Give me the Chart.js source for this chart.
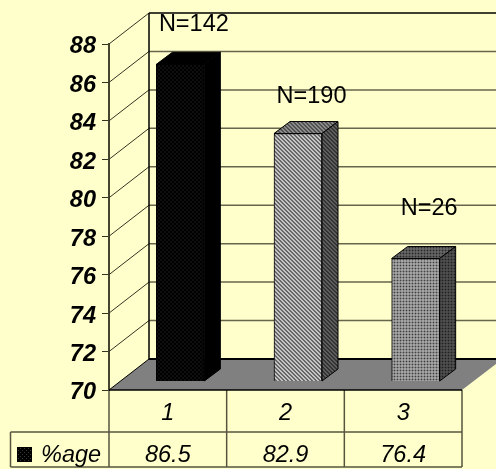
<!DOCTYPE html>
<html lang="en">
<head>
    <meta charset="UTF-8">
    <title>%age by group</title>
    <script src="https://cdn.jsdelivr.net/npm/chart.js"></script>
    <style>
        html, body { margin: 0; padding: 0; background: #FFFFCC; }
        canvas { display: block; }
    </style>
</head>
<body>
    <canvas id="myChart" width="496" height="469"></canvas>
    <script>
        const categories = ['1', '2', '3'];
        const seriesName = '%age';
        const percentages = [86.5, 82.9, 76.4];
        const sampleSizes = ['N=142', 'N=190', 'N=26'];
        const yTicks = [70, 72, 74, 76, 78, 80, 82, 84, 86, 88];

        // how far each N= label sits above its bar
        const labelLift = [48, 46, 58];

        const FONT = '"Liberation Sans", Arial, sans-serif';
        const WALL_DX = 40, WALL_DY = 31;   // depth of the back wall
        const BAR_DX = 12.5, BAR_DY = 8.5;  // bars stand a little way in from the front
        const SIDE_DX = 16, SIDE_DY = 12;   // depth of each bar

        // small repeating fill built from rows of palette indexes
        function makePattern(rows, colors) {
            const tile = document.createElement('canvas');
            tile.width = rows[0].length;
            tile.height = rows.length;
            const t = tile.getContext('2d');
            rows.forEach((row, y) => {
                [...row].forEach((c, x) => {
                    t.fillStyle = colors[+c];
                    t.fillRect(x, y, 1, 1);
                });
            });
            return t.createPattern(tile, 'repeat');
        }
        const dots = ['1000', '0000', '0010', '0000'];
        const diag = ['0011', '1001', '1100', '0110'];
        const mesh = ['110', '110', '000'];

        const frontFills = [
            makePattern(dots, ['#000000', '#3a3a3a']),
            makePattern(diag, ['#f4f4f4', '#383838']),
            makePattern(mesh, ['#c4c4c4', '#404040'])
        ];
        const topFills = [
            '#000000',
            makePattern(diag, ['#a8a8a8', '#333333']),
            makePattern(mesh, ['#787878', '#282828'])
        ];
        const sideFills = [
            '#000000',
            makePattern(diag, ['#747474', '#1e1e1e']),
            makePattern(mesh, ['#5e5e5e', '#202020'])
        ];

        function line(ctx, x1, y1, x2, y2, color, width) {
            ctx.strokeStyle = color;
            ctx.lineWidth = width;
            ctx.beginPath();
            ctx.moveTo(x1, y1);
            ctx.lineTo(x2, y2);
            ctx.stroke();
        }

        function poly(ctx, pts, fill, stroke) {
            ctx.beginPath();
            pts.forEach((p, i) => i ? ctx.lineTo(p[0], p[1]) : ctx.moveTo(p[0], p[1]));
            ctx.closePath();
            ctx.fillStyle = fill;
            ctx.fill();
            if (stroke) {
                ctx.strokeStyle = stroke;
                ctx.lineWidth = 1;
                ctx.stroke();
            }
        }

        // back wall, floor and the diagonal gridlines
        const wallPlugin = {
            id: 'wall',
            beforeDatasetsDraw(chart) {
                const { ctx, chartArea: a, scales: { y } } = chart;
                const backLeft = a.left + WALL_DX;
                const wallRight = chart.width;
                const wallTop = a.top - WALL_DY;
                const floorY = a.bottom - WALL_DY;
                const topTick = yTicks[yTicks.length - 1];
                ctx.save();
                yTicks.forEach((v) => {
                    const py = y.getPixelForValue(v);
                    if (v > yTicks[0]) {
                        line(ctx, a.left, py, backLeft, py - WALL_DY, '#333322', 1);
                        line(ctx, backLeft, py - WALL_DY, wallRight, py - WALL_DY, v === topTick ? '#000000' : '#66664c', 1.5);
                    }
                });
                line(ctx, backLeft, wallTop, backLeft, floorY, '#000000', 1.5);
                poly(ctx, [[a.left, a.bottom], [backLeft, floorY], [wallRight, floorY], [wallRight, floorY + 5], [a.right, a.bottom]], '#808080');
                line(ctx, a.left, a.bottom, backLeft, floorY, '#000000', 1);
                line(ctx, backLeft, floorY, wallRight, floorY, '#000000', 2);
                ctx.restore();
            },
            // bars are pushed back onto the floor while the dataset is drawn
            beforeDatasetDraw(chart) {
                chart.ctx.save();
                chart.ctx.translate(BAR_DX, -BAR_DY);
            },
            afterDatasetDraw(chart, args) {
                const { ctx } = chart;
                chart.getDatasetMeta(args.index).data.forEach((bar, i) => {
                    const left = bar.x - bar.width / 2;
                    const right = bar.x + bar.width / 2;
                    poly(ctx, [[left, bar.y], [left + SIDE_DX, bar.y - SIDE_DY], [right + SIDE_DX, bar.y - SIDE_DY], [right, bar.y]], topFills[i], '#000000');
                    poly(ctx, [[right, bar.y], [right + SIDE_DX, bar.y - SIDE_DY], [right + SIDE_DX, bar.base - SIDE_DY], [right, bar.base]], sideFills[i], '#000000');
                });
                ctx.restore();
            },
            afterDatasetsDraw(chart) {
                const { ctx, chartArea: a, scales: { x, y } } = chart;
                ctx.save();
                ctx.textAlign = 'center';
                ctx.textBaseline = 'middle';
                ctx.fillStyle = '#000000';

                // N= labels over the bars
                ctx.font = '23.5px ' + FONT;
                sampleSizes.forEach((label, i) => {
                    ctx.fillText(label, x.getPixelForValue(i) + 26, y.getPixelForValue(percentages[i]) - labelLift[i]);
                });

                // data table under the axis
                const rowY = 432, tableBottom = 467, tableLeft = 10.5;
                const edges = [a.left, a.left + (a.right - a.left) / 3, a.left + 2 * (a.right - a.left) / 3, a.right];
                const tableLine = '#55553f';
                edges.forEach((ex) => line(ctx, ex, a.bottom, ex, tableBottom, tableLine, 1.5));
                line(ctx, a.left, a.bottom, a.right, a.bottom, '#000000', 1.5);
                line(ctx, tableLeft, rowY, a.right, rowY, tableLine, 1.5);
                line(ctx, tableLeft, tableBottom, a.right, tableBottom, tableLine, 1.5);
                line(ctx, tableLeft, rowY, tableLeft, tableBottom, tableLine, 1.5);

                ctx.font = 'italic 23.5px ' + FONT;
                percentages.forEach((v, i) => {
                    ctx.fillText(v.toFixed(1), x.getPixelForValue(i), 455);
                });
                ctx.fillStyle = frontFills[0];
                ctx.fillRect(17, 447, 15, 15);
                ctx.fillStyle = '#000000';
                ctx.textAlign = 'left';
                ctx.fillText(seriesName, 41, 455);
                ctx.restore();
            }
        };

        new Chart(document.getElementById('myChart'), {
            type: 'bar',
            data: {
                labels: categories,
                datasets: [{
                    label: seriesName,
                    data: percentages,
                    base: yTicks[0],
                    backgroundColor: frontFills,
                    borderColor: '#000000',
                    borderWidth: 1,
                    barThickness: 48,
                    clip: false
                }]
            },
            options: {
                responsive: false,
                animation: false,
                layout: { padding: { top: 44, right: 34, left: 0, bottom: 0 } },
                plugins: { legend: { display: false }, tooltip: { enabled: false } },
                scales: {
                    x: {
                        afterFit(scale) { scale.height = 79; },
                        grid: { display: false },
                        border: { display: false },
                        ticks: {
                            color: '#000000',
                            padding: 1,
                            maxRotation: 0,
                            font: { family: FONT, size: 23.5, style: 'italic' }
                        }
                    },
                    y: {
                        min: 70,
                        max: 88,
                        afterFit(scale) { scale.width = 109; },
                        afterBuildTicks(scale) { scale.ticks = yTicks.map((value) => ({ value })); },
                        grid: { drawOnChartArea: false, tickLength: 7, color: '#333322', lineWidth: 1 },
                        border: { color: '#44442f', width: 2 },
                        ticks: {
                            color: '#000000',
                            padding: 6,
                            labelOffset: 3,
                            font: { family: FONT, size: 23.5, style: 'italic', weight: 'bold' }
                        }
                    }
                }
            },
            plugins: [wallPlugin]
        });
    </script>
</body>
</html>
